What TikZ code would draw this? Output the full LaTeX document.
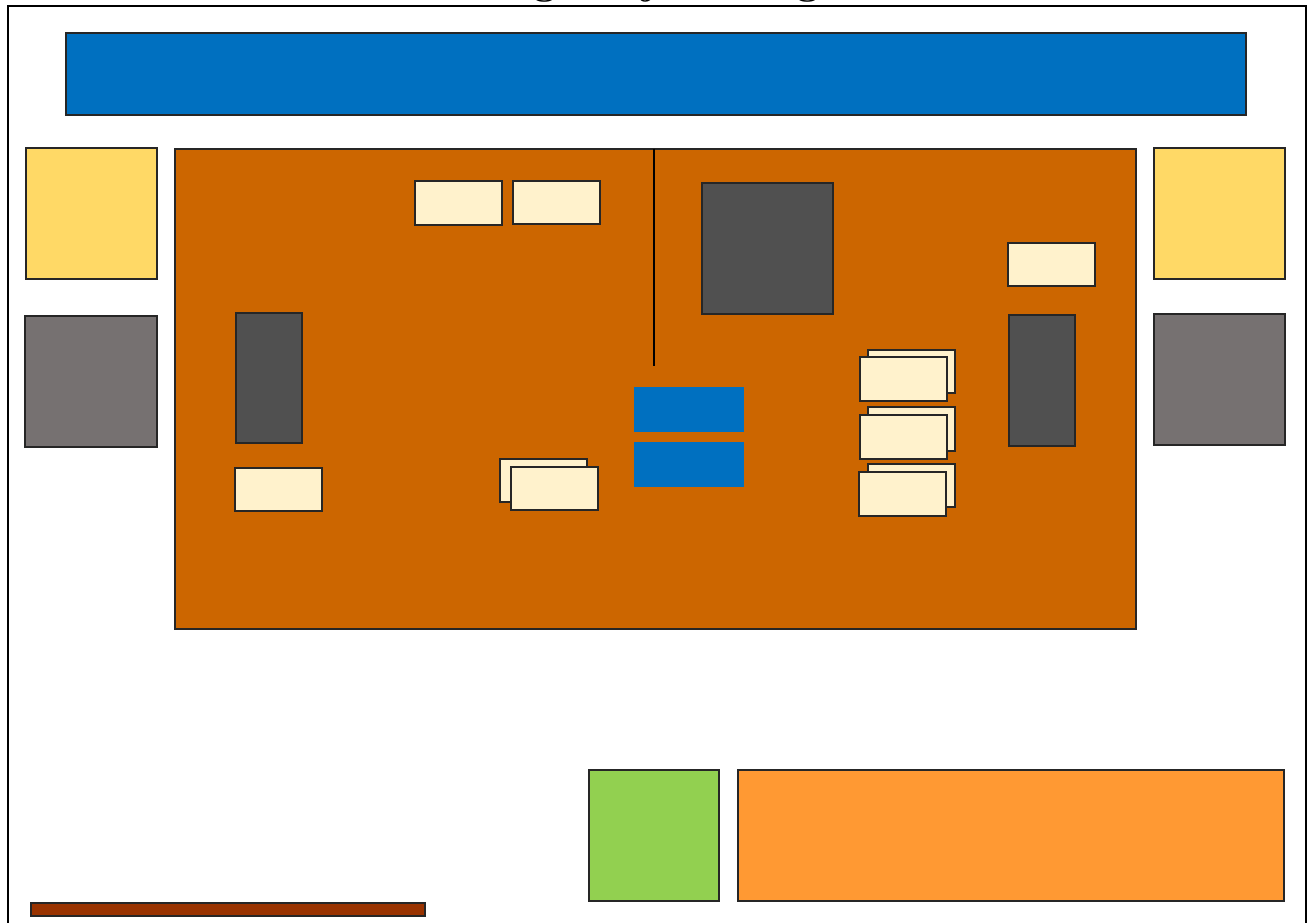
\documentclass[tikz,border=0pt]{standalone}
\definecolor{hdrblue}{HTML}{0070C0}
\definecolor{boardorange}{HTML}{CC6600}
\definecolor{padyellow}{HTML}{FFD966}
\definecolor{padgray}{HTML}{767171}
\definecolor{chipgray}{HTML}{505050}
\definecolor{cream}{HTML}{FFF2CC}
\definecolor{leafgreen}{HTML}{92D050}
\definecolor{lightorange}{HTML}{FF9933}
\definecolor{rust}{HTML}{993300}
\begin{document}
\begin{tikzpicture}[x=0.75pt,y=-0.75pt,
  part/.style={draw=black!85,line width=0.9pt},
  yellowpad/.style={part,fill=padyellow},
  graypad/.style={part,fill=padgray},
  chip/.style={part,fill=chipgray},
  label box/.style={part,fill=cream},
  bluebox/.style={part,fill=hdrblue,draw=hdrblue!70!black}]
\useasboundingbox (0,0) rectangle (1316,923);
\clip (0,0) rectangle (1316,923);
% frame and clipped title
\draw[line width=1.9pt] (8,6) rectangle (1306,960);
\node[anchor=base,font=\bfseries,scale=2.9] (title) at (658,-5.5) {Wiring Project Diagram};
% header bar
\draw[part,fill=hdrblue] (66,33) rectangle (1246,115);
% side pads
\draw[yellowpad] (26,148) rectangle (157,279);
\draw[graypad] (25,316) rectangle (157,447);
\draw[yellowpad] (1154,148) rectangle (1285,279);
\draw[graypad] (1154,314) rectangle (1285,445);
% board
\draw[part,fill=boardorange] (175,149) rectangle (1136,629);
\draw[line width=2.2pt] (654,149) -- (654,366);
% chips
\draw[chip] (702,183) rectangle (833,314);
\draw[chip] (236,313) rectangle (302,443);
\draw[chip] (1009,315) rectangle (1075,446);
% labels
\draw[label box] (415,181) rectangle (502,225);
\draw[label box] (513,181) rectangle (600,224);
\draw[label box] (1008,243) rectangle (1095,286);
\draw[label box] (235,468) rectangle (322,511);
\draw[label box] (500,459) rectangle (587,502);
\draw[label box] (511,467) rectangle (598,510);
\draw[label box] (868,350) rectangle (955,393);
\draw[label box] (860,357) rectangle (947,401);
\draw[label box] (868,407) rectangle (955,451);
\draw[label box] (860,415) rectangle (947,459);
\draw[label box] (868,464) rectangle (955,507);
\draw[label box] (859,472) rectangle (946,516);
% blue blocks
\draw[part,fill=hdrblue,draw=hdrblue] (635,388) rectangle (743,431);
\draw[part,fill=hdrblue,draw=hdrblue] (635,443) rectangle (743,486);
% bottom
\draw[part,fill=leafgreen] (589,770) rectangle (719,901);
\draw[part,fill=lightorange] (738,770) rectangle (1284,901);
\draw[part,fill=rust] (31,903) rectangle (425,916);
\end{tikzpicture}
\end{document}
